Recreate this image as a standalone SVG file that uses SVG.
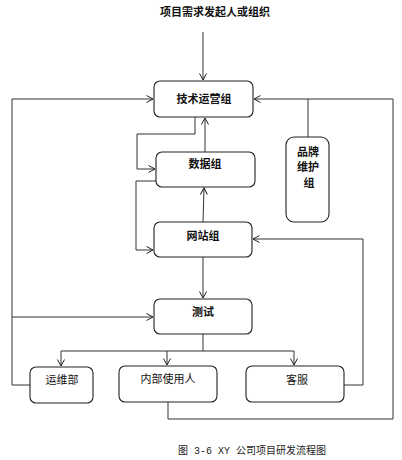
<svg xmlns="http://www.w3.org/2000/svg" width="402" height="460" viewBox="0 0 402 460">
<style>
.box{fill:#fff;stroke:#222;stroke-width:1.1}
.t{font-family:"Noto Sans CJK SC","Noto Sans",sans-serif;font-size:11px;fill:#111;text-anchor:middle}
.b{font-weight:bold}
.c{fill:none;stroke:#333;stroke-width:1}
.a{marker-end:url(#ah)}
</style>
<defs>
<marker id="ah" markerUnits="userSpaceOnUse" markerWidth="10" markerHeight="10" refX="7" refY="4" orient="auto">
<path d="M0.5,0.5 L7,4 L0.5,7.5" fill="none" stroke="#222" stroke-width="1"/>
</marker>
</defs>
<rect width="402" height="460" fill="#fff"/>
<text class="t b" x="215" y="16">项目需求发起人或组织</text>
<g id="connectors">
<path class="c a" d="M203,32 V80"/>
<path class="c a" d="M12,385 V99 H153"/>
<path class="c a" d="M12,317 H153"/>
<path class="c a" d="M393,419 V99 H254"/>
<path class="c" d="M308,99 V137"/>
<path class="c a" d="M195,117 V134 H137 V169 H155"/>
<path class="c a" d="M205,152 V118"/>
<path class="c a" d="M156,181 H136 V250 H153"/>
<path class="c a" d="M203,222 L204,188"/>
<path class="c a" d="M344,385 H363 V239 H253"/>
<path class="c a" d="M203,257 V298"/>
<path class="c" d="M203,334 V351"/>
<path class="c" d="M61,351 H294"/>
<path class="c a" d="M61,351 V366"/>
<path class="c a" d="M167,351 V365"/>
<path class="c a" d="M294,351 V365"/>
<path class="c" d="M168,402 V419 H393"/>
<path class="c" d="M12,385 H30"/>
</g>
<g id="n_jishu"><rect class="box" x="154" y="81" width="99" height="36" rx="6"/><text class="t b" x="204" y="103">技术运营组</text></g>
<g id="n_shuju"><rect class="box" x="156" y="152" width="99" height="35" rx="6"/><text class="t b" x="205" y="168">数据组</text></g>
<g id="n_wangzhan"><rect class="box" x="154" y="222" width="98" height="35" rx="6"/><text class="t b" x="203" y="240">网站组</text></g>
<g id="n_pinpai"><rect class="box" x="286" y="137" width="43" height="85" rx="8"/><text class="t b" x="308" y="156">品牌</text><text class="t b" x="308" y="171">维护</text><text class="t b" x="309" y="187">组</text></g>
<g id="n_ceshi"><rect class="box" x="154" y="299" width="98" height="35" rx="6"/><text class="t b" x="203" y="316">测试</text></g>
<g id="n_yunwei"><rect class="box" x="30" y="367" width="63" height="36" rx="6"/><text class="t" x="62" y="384">运维部</text></g>
<g id="n_neibu"><rect class="box" x="119" y="366" width="98" height="36" rx="6"/><text class="t" x="168" y="383">内部使用人</text></g>
<g id="n_kefu"><rect class="box" x="246" y="366" width="98" height="36" rx="6"/><text class="t" x="297" y="384">客服</text></g>
<text x="252" y="454" style="font-family:'Liberation Mono','Noto Sans CJK SC',monospace;font-size:10px;fill:#222;text-anchor:middle">图 3-6 XY 公司项目研发流程图</text>
</svg>
